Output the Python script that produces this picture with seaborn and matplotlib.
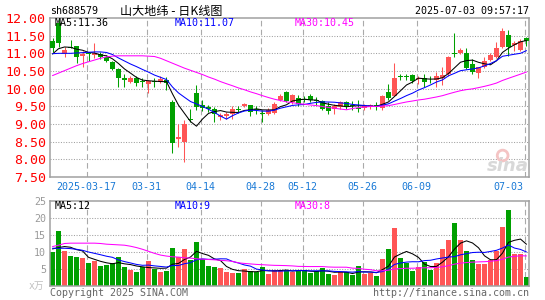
import numpy as np
import pandas as pd
import matplotlib
matplotlib.use("Agg")
import matplotlib.pyplot as plt
import matplotlib.transforms as mtransforms
import seaborn as sns

sns.set_theme(style="white")
plt.rcParams["font.family"] = ["DejaVu Sans Mono", "Noto Sans CJK SC"]

W, H = 545, 300

# ---------------------------
# DADOS
# ---------------------------
opens = [11.35, 11.86, 10.97, 11.19, 11.20, 10.93, 11.01, 10.95, 10.99, 10.89,
         10.76, 10.56, 10.31, 10.20, 10.29, 10.22, 10.12, 10.22, 10.20, 10.25,
         9.63, 8.57, 8.48, 9.13, 9.88, 9.54, 9.49, 9.42, 9.20, 9.23,
         9.27, 9.42, 9.51, 9.54, 9.41, 9.29, 9.28, 9.30, 9.68, 9.90,
         9.61, 9.75, 9.69, 9.79, 9.66, 9.65, 9.52, 9.42, 9.49, 9.61,
         9.53, 9.43, 9.44, 9.51, 9.54, 9.44, 9.90, 9.80, 10.35, 10.35,
         10.39, 10.28, 10.31, 10.30, 10.25, 10.30, 10.41, 11.00, 11.00, 11.00,
         10.69, 10.44, 10.62, 10.81, 10.91, 11.19, 11.52, 11.24, 11.09, 11.44]
highs = [11.44, 12.03, 11.18, 11.37, 11.20, 11.07, 11.05, 11.29, 11.03, 10.95,
         10.78, 10.58, 10.41, 10.37, 10.37, 10.29, 10.25, 10.29, 10.36, 10.34,
         9.68, 9.01, 9.12, 9.42, 10.10, 9.69, 9.54, 9.48, 9.30, 9.35,
         9.51, 9.51, 9.59, 9.54, 9.51, 9.40, 9.44, 9.61, 9.85, 9.94,
         9.86, 9.82, 9.79, 9.84, 9.77, 9.67, 9.61, 9.56, 9.65, 9.66,
         9.65, 9.68, 9.56, 9.58, 9.61, 9.82, 10.12, 10.72, 10.41, 10.41,
         10.41, 10.37, 10.41, 10.37, 10.46, 10.62, 10.93, 11.57, 11.14, 11.14,
         10.84, 10.62, 10.91, 11.00, 11.31, 11.71, 11.66, 11.35, 11.41, 11.47]
lows = [11.03, 11.19, 10.90, 11.14, 10.74, 10.62, 10.78, 10.88, 10.84, 10.76,
        10.53, 10.06, 10.06, 10.15, 10.08, 10.06, 9.89, 10.06, 10.16, 9.96,
        8.19, 8.36, 7.93, 9.05, 9.40, 9.38, 9.35, 9.05, 9.11, 9.14,
        9.13, 9.30, 9.47, 9.24, 9.27, 9.07, 9.25, 9.28, 9.65, 9.61,
        9.58, 9.52, 9.61, 9.61, 9.54, 9.40, 9.29, 9.28, 9.42, 9.42,
        9.40, 9.33, 9.40, 9.42, 9.40, 9.40, 9.68, 9.78, 10.25, 10.25,
        10.16, 10.12, 10.06, 10.15, 10.06, 10.10, 10.37, 10.91, 10.97, 10.56,
        10.41, 10.29, 10.59, 10.78, 10.88, 11.16, 10.93, 11.07, 11.07, 11.22]
closes = [11.14, 11.28, 11.10, 11.16, 10.91, 10.99, 10.97, 11.01, 10.90, 10.78,
          10.56, 10.31, 10.24, 10.31, 10.17, 10.18, 10.22, 10.18, 10.26, 10.15,
          8.45, 8.63, 9.01, 9.11, 9.49, 9.46, 9.43, 9.27, 9.25, 9.28,
          9.42, 9.41, 9.56, 9.35, 9.40, 9.28, 9.40, 9.58, 9.80, 9.66,
          9.82, 9.56, 9.68, 9.68, 9.65, 9.42, 9.37, 9.52, 9.61, 9.52,
          9.52, 9.42, 9.52, 9.53, 9.52, 9.80, 9.75, 10.29, 10.34, 10.34,
          10.22, 10.30, 10.20, 10.29, 10.36, 10.39, 10.91, 10.99, 11.09, 10.59,
          10.46, 10.60, 10.78, 10.95, 11.16, 11.64, 11.19, 11.28, 11.36, 11.35]
volumes = [10.0, 16.1, 10.3, 8.7, 8.4, 8.1, 6.7, 7.3, 5.8, 6.2,
           6.7, 8.4, 5.5, 4.7, 4.1, 5.5, 7.3, 5.0, 4.1, 4.4,
           11.3, 8.4, 10.8, 7.7, 12.8, 8.0, 5.8, 5.5, 5.3, 4.1,
           3.8, 3.8, 5.0, 4.3, 4.1, 5.5, 3.5, 4.8, 4.8, 4.8,
           4.1, 4.3, 4.8, 3.8, 4.3, 5.3, 3.5, 3.3, 4.1, 4.1,
           3.3, 5.8, 3.6, 3.8, 3.0, 7.9, 10.8, 17.1, 8.2, 6.8,
           4.4, 5.6, 7.1, 4.8, 6.8, 10.8, 13.5, 18.4, 13.5, 10.2,
           7.7, 6.5, 6.5, 7.7, 10.2, 17.4, 22.4, 9.5, 9.5, 2.6]

# inicio das medias moveis (dias anteriores nao aparecem no grafico)
ma5_head = [10.98, 11.13, 11.18, 11.17]
ma10_head = [10.99, 11.00, 11.00, 11.00, 11.01, 11.02, 11.03, 11.04, 11.04]
ma30_head = [10.37, 10.44, 10.51, 10.58, 10.65, 10.71, 10.76, 10.81, 10.86, 10.90,
             10.92, 10.93, 10.93, 10.93, 10.93, 10.93, 10.92, 10.91, 10.86, 10.79,
             10.72, 10.65, 10.58, 10.52, 10.46, 10.40, 10.33, 10.27, 10.20]
vol_ma5_head = [10.9, 11.3, 11.6, 11.4]
vol_ma10_head = [11.1, 11.1, 11.1, 11.0, 10.8, 10.5, 10.0, 9.6, 9.2]
vol_ma30_head = [11.6, 12.0, 12.5, 12.6, 12.6, 12.6, 12.6, 12.6, 12.5, 12.3,
                 12.2, 12.1, 12.0, 11.7, 11.3, 10.8, 10.2, 9.6, 9.1, 8.8,
                 8.6, 8.5, 8.3, 8.2, 8.0, 7.9, 7.8, 7.7, 7.55]

date_idx = [6, 16, 25, 35, 42, 52, 61, 79]
date_labels = ["2025-03-17", "03-31", "04-14", "04-28", "05-12", "05-26", "06-09", "07-03"]
price_ticks = [7.5, 8.0, 8.5, 9.0, 9.5, 10.0, 10.5, 11.0, 11.5, 12.0]
vol_ticks = [5, 10, 15, 20, 25]

title_code = "sh688579"
title_name = "山大地纬 - 日K线图"
timestamp = "2025-07-03 09:57:17"
price_ma_labels = ["MA5:11.36", "MA10:11.07", "MA30:10.45"]
vol_ma_labels = ["MA5:12", "MA10:9", "MA30:8"]

RED = "#ff5555"
GREEN = "#00a000"
MA_COLORS = ["#000000", "#0000ff", "#ff00ff"]
FRAME = "#a0a0a0"
DATE_COLOR = "#1a7ad6"


def moving_avg(values, n, head):
    s = pd.Series(values, dtype=float).rolling(n).mean()
    s.iloc[:n - 1] = head
    return s.values


df = pd.DataFrame({"idx": np.arange(len(closes)), "open": opens, "high": highs,
                   "low": lows, "close": closes, "volume": volumes})
df["dir"] = np.where(df["close"] >= df["open"], "up", "down")
palette = {"up": RED, "down": GREEN}
cores = df["dir"].map(palette)

price_mas = [moving_avg(closes, 5, ma5_head), moving_avg(closes, 10, ma10_head),
             moving_avg(closes, 30, ma30_head)]
vol_mas = [moving_avg(volumes, 5, vol_ma5_head), moving_avg(volumes, 10, vol_ma10_head),
           moving_avg(volumes, 30, vol_ma30_head)]

fig = plt.figure(figsize=(W / 100, H / 100), dpi=100)
fig.patch.set_facecolor("white")


def fx(x):
    return x / W


def fy(y):
    return 1 - y / H


XLIM = (-0.417, 79.42)

# ---------------------------
# PAINEL DE PRECO
# ---------------------------
ax = fig.add_axes([fx(50), fy(177), fx(529) - fx(50), fy(18) - fy(177)])
ax.set_xlim(*XLIM)
ax.set_ylim(7.5, 12.0)

for y in price_ticks[1:-1]:
    ax.axhline(y, color=FRAME, lw=0.75, ls=(0, (1, 1.5)), zorder=0.5)
for d in date_idx:
    ax.axvline(d - 0.33, color="#aaaaaa", lw=0.8, ls=(0, (5, 3)), zorder=0.5)

# marca d'agua
ax.scatter([0.945], [0.135], s=60, transform=ax.transAxes, facecolor="none",
           edgecolor="#f4c4c4", linewidth=2.0, zorder=0.6)
ax.text(0.955, 0.07, "sina", transform=ax.transAxes, ha="center", va="center",
        fontsize=13, fontstyle="italic", fontweight="bold", color="#d8d8d8",
        family="DejaVu Sans", zorder=0.6)

ax.vlines(df["idx"], df["low"], df["high"], colors=cores, lw=0.75, zorder=2)
corpo_base = np.minimum(df["open"], df["close"])
corpo_alt = np.maximum((df["close"] - df["open"]).abs(), 0.025)
ax.bar(df["idx"], corpo_alt, bottom=corpo_base, width=0.8, color=cores,
       linewidth=0, zorder=3)

for ma, cor in zip(price_mas, MA_COLORS):
    sns.lineplot(x=df["idx"], y=ma, color=cor, lw=0.75, estimator=None,
                 ax=ax, zorder=4, legend=False)

ax.set_xlabel("")
ax.set_ylabel("")
ax.set_xticks([])
ax.set_yticks(price_ticks)
ax.set_yticklabels([f"{t:.2f}" for t in price_ticks], color="#ff0000", fontsize=9.5)
ax.tick_params(axis="y", length=0, pad=3)
for s in ax.spines.values():
    s.set_color(FRAME)
    s.set_linewidth(1.1)

trans = mtransforms.blended_transform_factory(ax.transData, fig.transFigure)
for d, lab in zip(date_idx, date_labels):
    if d == date_idx[-1]:
        ax.text(d - 0.6, fy(186.5), lab, transform=trans, ha="right", va="center",
                color=DATE_COLOR, fontsize=7.2)
    else:
        ax.text(d - 0.33, fy(186.5), lab, transform=trans, ha="center", va="center",
                color=DATE_COLOR, fontsize=7.2)

# ---------------------------
# PAINEL DE VOLUME
# ---------------------------
axv = fig.add_axes([fx(50), fy(286), fx(529) - fx(50), fy(201) - fy(286)])
for y in vol_ticks[:-1]:
    axv.axhline(y, color=FRAME, lw=0.75, ls=(0, (1, 1.5)), zorder=0.5)
for d in date_idx:
    axv.axvline(d - 0.33, color="#aaaaaa", lw=0.8, ls=(0, (5, 3)), zorder=0.5)

sns.barplot(data=df, x="idx", y="volume", hue="dir", palette=palette,
            native_scale=True, width=0.83, saturation=1, dodge=False,
            errorbar=None, legend=False, linewidth=0, ax=axv, zorder=2)
for ma, cor in zip(vol_mas, MA_COLORS):
    sns.lineplot(x=df["idx"], y=ma, color=cor, lw=0.75, estimator=None,
                 ax=axv, zorder=4, legend=False)

axv.set_xlim(*XLIM)
axv.set_ylim(0, 25)
axv.set_xlabel("")
axv.set_ylabel("")
axv.set_xticks([])
axv.set_yticks(vol_ticks)
axv.set_yticklabels([str(t) for t in vol_ticks], color="#999999", fontsize=7.2)
axv.tick_params(axis="y", length=0, pad=3)
for s in axv.spines.values():
    s.set_color(FRAME)
    s.set_linewidth(1.1)

# ---------------------------
# TEXTOS
# ---------------------------
fig.text(fx(50), fy(11), title_code, ha="left", va="center", fontsize=7.2, color="black")
fig.text(fx(120), fy(11), title_name, ha="left", va="center", fontsize=8.7, color="black",
         family=["Noto Sans CJK SC", "DejaVu Sans"])
fig.text(fx(529), fy(11), timestamp, ha="right", va="center", fontsize=7.2, color="black")

for x, lab, cor in zip([55, 175, 295], price_ma_labels, MA_COLORS):
    fig.text(fx(x), fy(23.5), lab, ha="left", va="center", fontsize=7.2, color=cor)
for x, lab, cor in zip([55, 175, 295], vol_ma_labels, MA_COLORS):
    fig.text(fx(x), fy(206), lab, ha="left", va="center", fontsize=7.2, color=cor)

fig.text(fx(36), fy(286), "x万", ha="center", va="center", fontsize=7, color="#c0c0c0",
         family=["DejaVu Sans Mono", "Noto Sans CJK SC"])
fig.text(fx(50), fy(292.5), "Copyright 2025 SINA.COM", ha="left", va="center",
         fontsize=7.2, color="#666666")
fig.text(fx(529), fy(292.5), "http://finance.sina.com.cn", ha="right", va="center",
         fontsize=7.2, color="#666666")

fig.savefig("out.png", dpi=100)
